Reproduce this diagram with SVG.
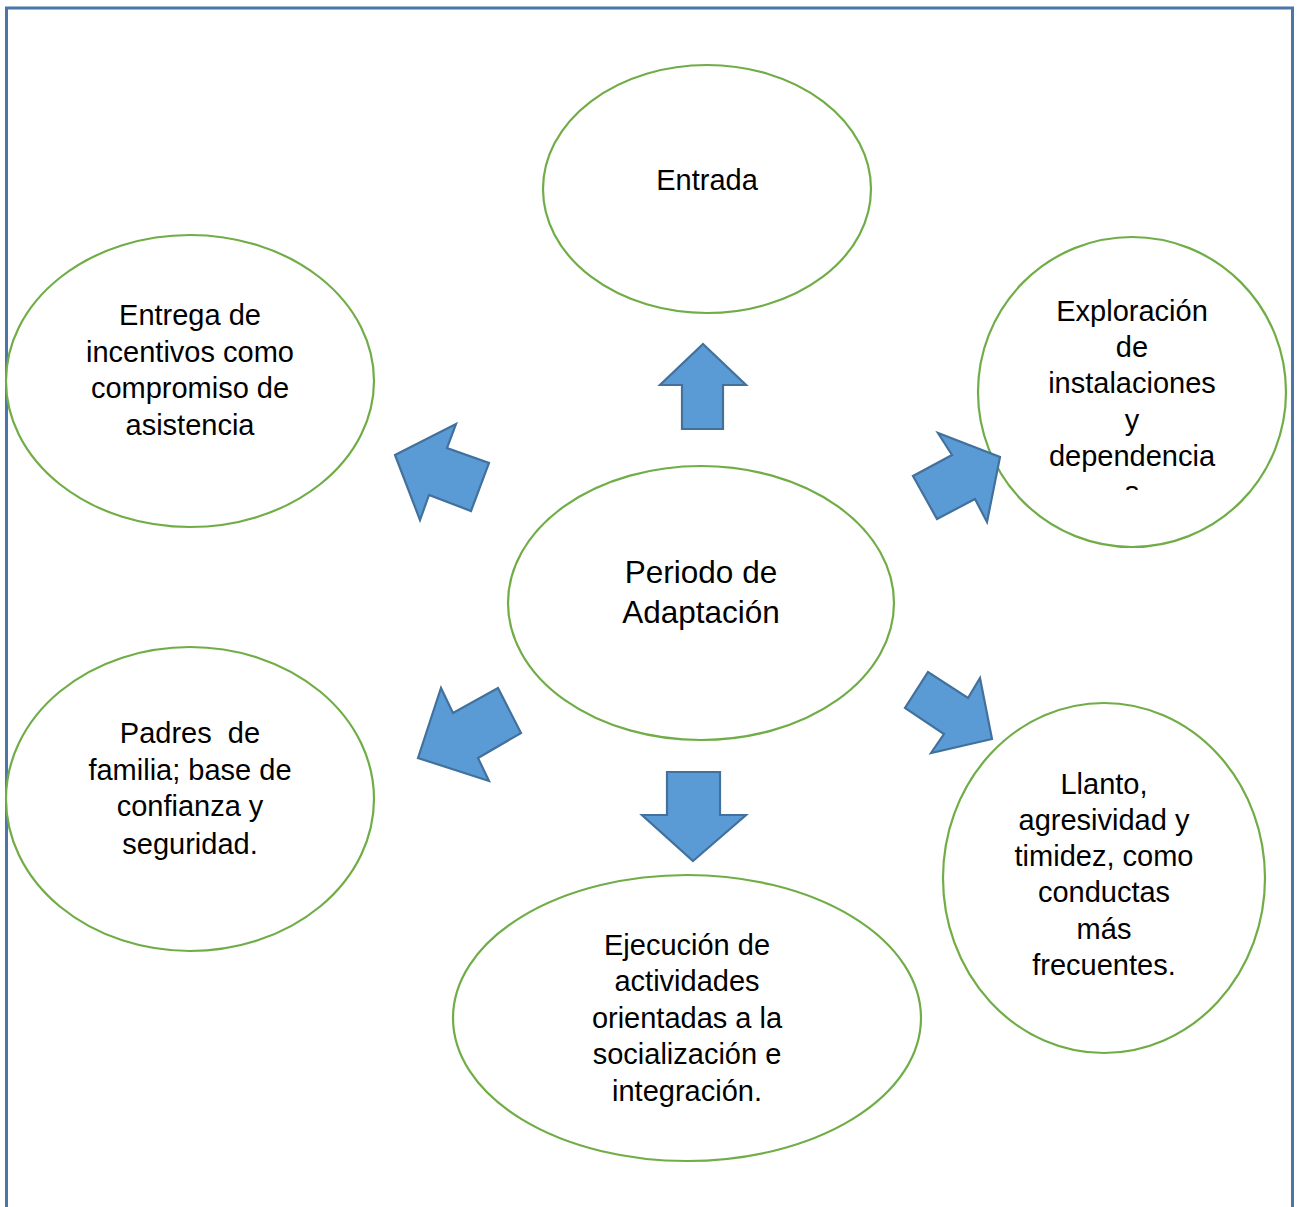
<svg xmlns="http://www.w3.org/2000/svg" width="1298" height="1207" viewBox="0 0 1298 1207">
<style>
.el{fill:#ffffff;stroke:#70ad47;stroke-width:2.2}
.ar{fill:#5b9bd5;stroke:#41719c;stroke-width:2.2;stroke-linejoin:miter}
.t{font-family:"Liberation Sans",Arial,sans-serif;font-size:29px;fill:#000;text-anchor:middle;white-space:pre}
.c{font-size:31.5px}
</style>
<defs>
<clipPath id="clipExp"><rect x="980" y="240" width="300" height="250"/></clipPath>
</defs>
<rect width="1298" height="1207" fill="#ffffff"/>
<path d="M6.5,1210 V8 H1292.5 V1210" fill="none" stroke="#4a76a8" stroke-width="3"/>

<g id="node-entrada">
<ellipse class="el" cx="707" cy="189" rx="164" ry="124"/>
<text class="t" x="707" y="190">Entrada</text>
</g>
<g id="node-entrega">
<ellipse class="el" cx="190" cy="381" rx="184" ry="146"/>
<text class="t" x="190" y="325">Entrega de</text>
<text class="t" x="190" y="362">incentivos como</text>
<text class="t" x="190" y="398">compromiso de</text>
<text class="t" x="190" y="435">asistencia</text>
</g>
<g id="node-exploracion">
<ellipse class="el" cx="1132" cy="392" rx="154" ry="155"/>
<g clip-path="url(#clipExp)">
<text class="t" x="1132" y="321">Exploración</text>
<text class="t" x="1132" y="357">de</text>
<text class="t" x="1132" y="393">instalaciones</text>
<text class="t" x="1132" y="430">y</text>
<text class="t" x="1132" y="466">dependencia</text>
<text class="t" x="1132" y="502">s</text>
</g>
</g>
<g id="node-periodo">
<ellipse class="el" cx="701" cy="603" rx="193" ry="137"/>
<text class="t c" x="701" y="583">Periodo de</text>
<text class="t c" x="701" y="623">Adaptación</text>
</g>
<g id="node-padres">
<ellipse class="el" cx="190" cy="799" rx="184" ry="152"/>
<text class="t" x="190" y="743">Padres  de</text>
<text class="t" x="190" y="780">familia; base de</text>
<text class="t" x="190" y="816">confianza y</text>
<text class="t" x="190" y="854">seguridad.</text>
</g>
<g id="node-ejecucion">
<ellipse class="el" cx="687" cy="1018" rx="234" ry="143"/>
<text class="t" x="687" y="955">Ejecución de</text>
<text class="t" x="687" y="991">actividades</text>
<text class="t" x="687" y="1028">orientadas a la</text>
<text class="t" x="687" y="1064">socialización e</text>
<text class="t" x="687" y="1101">integración.</text>
</g>
<g id="node-llanto">
<ellipse class="el" cx="1104" cy="878" rx="161" ry="175"/>
<text class="t" x="1104" y="794">Llanto,</text>
<text class="t" x="1104" y="830">agresividad y</text>
<text class="t" x="1104" y="866">timidez, como</text>
<text class="t" x="1104" y="902">conductas</text>
<text class="t" x="1104" y="939">más</text>
<text class="t" x="1104" y="975">frecuentes.</text>
</g>

<g id="connectors">
<polygon class="ar" points="703,344 746,385 723,385 723,429 682,429 682,385 660,385"/>
<polygon class="ar" points="693,861 746,815 720,815 720,772 667,772 667,815 642,815"/>
<polygon class="ar" points="1000,457 987,522 975,499 937,519 913,476 952,455 938,433"/>
<polygon class="ar" points="395,455 456,424 447,448 489,463 471,511 429,495 420,520"/>
<polygon class="ar" points="418,758 441,688 453,713 498,688 521,733 478,758 489,781"/>
<polygon class="ar" points="992,739 931,753 944,734 905,708 928,672 968,698 980,678"/>
</g>
</svg>
